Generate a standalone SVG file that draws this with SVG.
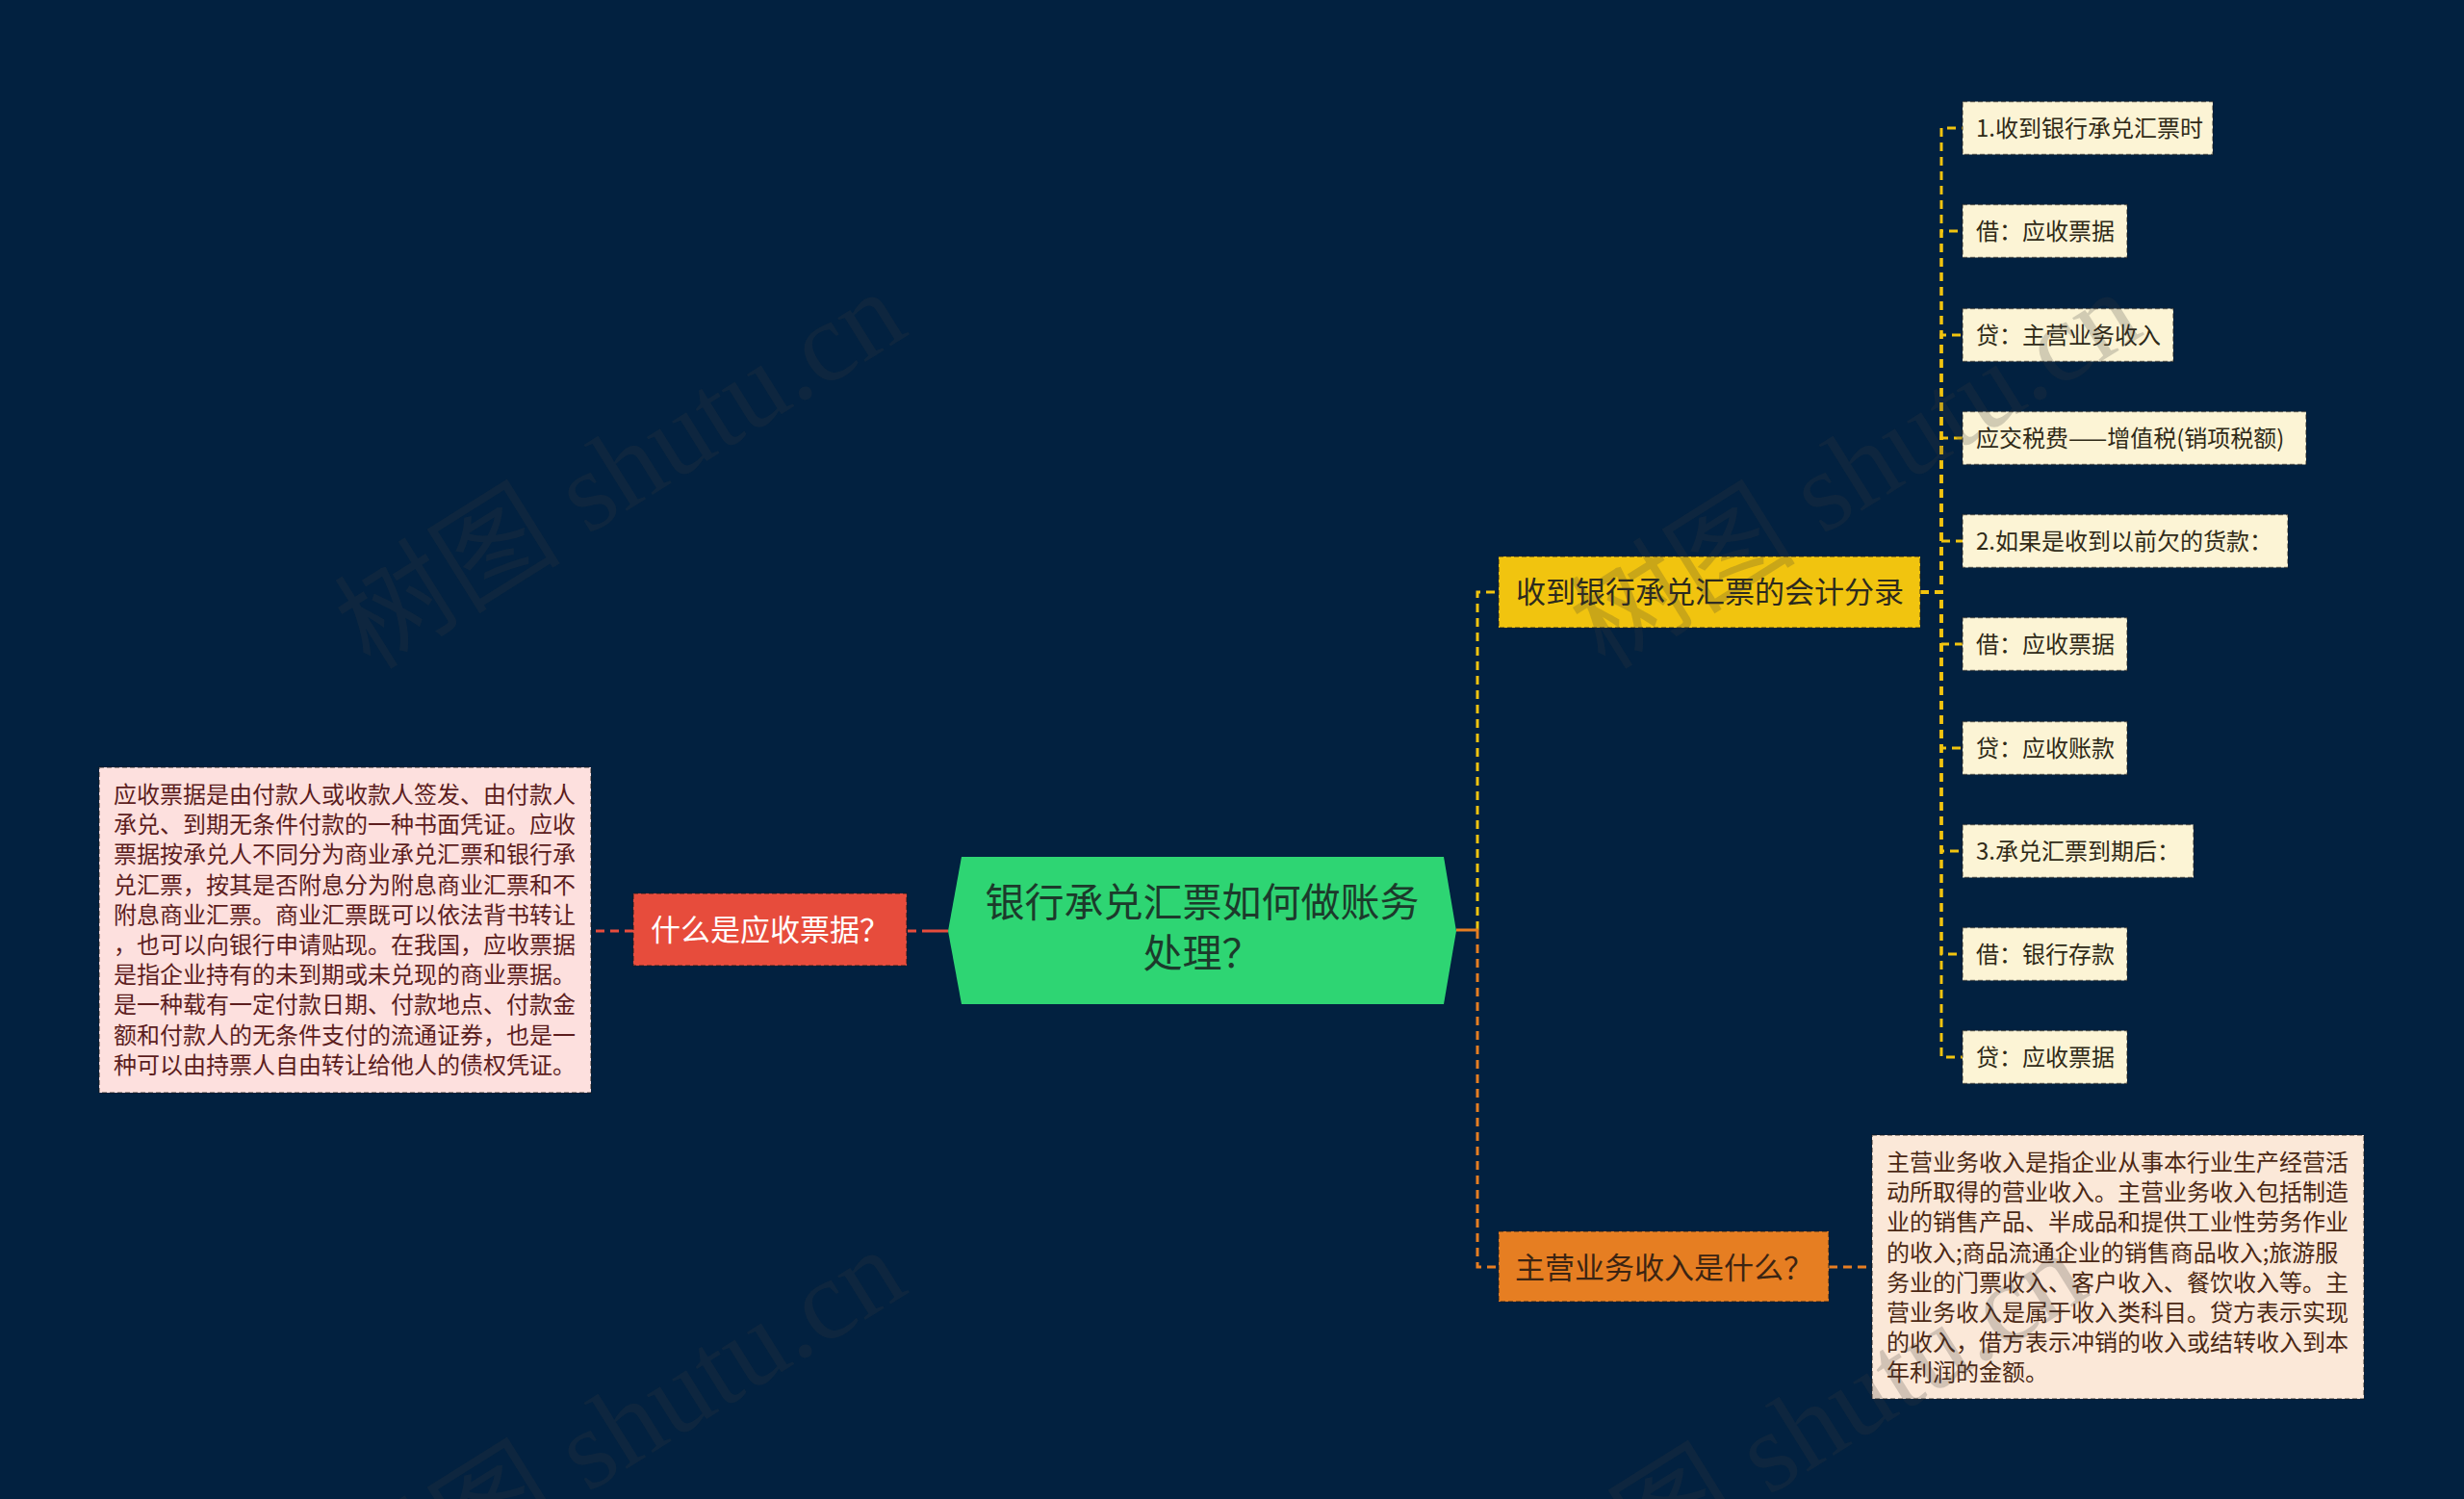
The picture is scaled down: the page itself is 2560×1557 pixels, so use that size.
<svg xmlns="http://www.w3.org/2000/svg" width="2560" height="1557" viewBox="0 0 2560 1557">
<style>
.t{font-family:"Noto Sans CJK SC","Noto Sans CJK TC",sans-serif}
.bd{stroke:#1a1a1a;stroke-opacity:.55;stroke-width:1.5;stroke-dasharray:5 3}
.leaf rect{fill:#fcf4d5}
.leaf text{font-size:24px;fill:#2f2a17}
.ln{fill:none;stroke-width:3;stroke-dasharray:9 6}
.ly{stroke:#f1c40f}
.lo{stroke:#e67e22}
.lr{stroke:#e74c3c}
.wm{font-family:"Liberation Serif","Noto Sans CJK SC",serif;font-size:118px;fill:#3c3c3c;fill-opacity:.22}
</style>
<rect width="2560" height="1557" fill="#022140"/>

<g id="connectors">
  <path class="ln ly" d="M1535 966 V615 H1557"/>
  <path class="ln lo" d="M1535 966 V1316 H1557"/>
  <path d="M1513 966 H1536" stroke="#e67e22" stroke-width="3" fill="none"/>
  <path d="M985 967 H958" stroke="#e74c3c" stroke-width="3" fill="none"/>
  <path class="ln lr" d="M952 967 H942"/>
  <path class="ln lr" d="M658 967 H614"/>
  <path class="ln lo" d="M1900 1316 H1945"/>
  <path class="ln ly" d="M1995 615 H2017 V133 H2039"/>
  <path class="ln ly" d="M1995 615 H2017 V240 H2039"/>
  <path class="ln ly" d="M1995 615 H2017 V348 H2039"/>
  <path class="ln ly" d="M1995 615 H2017 V455 H2039"/>
  <path class="ln ly" d="M1995 615 H2017 V562 H2039"/>
  <path class="ln ly" d="M1995 615 H2017 V669 H2039"/>
  <path class="ln ly" d="M1995 615 H2017 V777 H2039"/>
  <path class="ln ly" d="M1995 615 H2017 V884 H2039"/>
  <path class="ln ly" d="M1995 615 H2017 V991 H2039"/>
  <path class="ln ly" d="M1995 615 H2017 V1098 H2039"/>
</g>

<g id="root">
  <polygon points="985,967 999,890 1500,890 1513,967 1500,1043 999,1043" fill="#2ed573"/>
  <text class="t" x="1249" y="952" font-size="41" fill="#1c3a2b" text-anchor="middle">银行承兑汇票如何做账务</text>
  <text class="t" x="1249" y="1005" font-size="41" fill="#1c3a2b" text-anchor="middle">处理？</text>
</g>

<g id="n-what-receivable">
  <rect class="bd" x="658" y="928" width="284" height="75" fill="#e74c3c"/>
  <text class="t" x="676" y="977" font-size="31" fill="#ffffff">什么是应收票据？</text>
</g>

<g id="n-receivable-desc">
  <rect class="bd" x="103" y="797" width="511" height="338" fill="#fde0de"/>
  <text class="t" font-size="24" fill="#5c1d1d">
    <tspan x="118" y="834">应收票据是由付款人或收款人签发、由付款人</tspan>
    <tspan x="118" y="865.2">承兑、到期无条件付款的一种书面凭证。应收</tspan>
    <tspan x="118" y="896.4">票据按承兑人不同分为商业承兑汇票和银行承</tspan>
    <tspan x="118" y="927.6">兑汇票，按其是否附息分为附息商业汇票和不</tspan>
    <tspan x="118" y="958.8">附息商业汇票。商业汇票既可以依法背书转让</tspan>
    <tspan x="118" y="990">，也可以向银行申请贴现。在我国，应收票据</tspan>
    <tspan x="118" y="1021.2">是指企业持有的未到期或未兑现的商业票据。</tspan>
    <tspan x="118" y="1052.4">是一种载有一定付款日期、付款地点、付款金</tspan>
    <tspan x="118" y="1083.6">额和付款人的无条件支付的流通证券，也是一</tspan>
    <tspan x="118" y="1114.8">种可以由持票人自由转让给他人的债权凭证。</tspan>
  </text>
</g>

<g id="n-entries">
  <rect class="bd" x="1557" y="578" width="438" height="74" fill="#f1c40f"/>
  <text class="t" x="1575" y="626" font-size="31" fill="#2c2a1e">收到银行承兑汇票的会计分录</text>
</g>

<g id="n-main-income">
  <rect class="bd" x="1557" y="1279" width="343" height="73" fill="#e67e22"/>
  <text class="t" x="1574" y="1328" font-size="31" fill="#3b2412">主营业务收入是什么？</text>
</g>

<g id="n-main-income-desc">
  <rect class="bd" x="1945" y="1179" width="511" height="274" fill="#fbe8d8"/>
  <text class="t" font-size="24" fill="#4b2814">
    <tspan x="1960" y="1216">主营业务收入是指企业从事本行业生产经营活</tspan>
    <tspan x="1960" y="1247.2">动所取得的营业收入。主营业务收入包括制造</tspan>
    <tspan x="1960" y="1278.4">业的销售产品、半成品和提供工业性劳务作业</tspan>
    <tspan x="1960" y="1309.6">的收入;商品流通企业的销售商品收入;旅游服</tspan>
    <tspan x="1960" y="1340.8">务业的门票收入、客户收入、餐饮收入等。主</tspan>
    <tspan x="1960" y="1372">营业务收入是属于收入类科目。贷方表示实现</tspan>
    <tspan x="1960" y="1403.2">的收入，借方表示冲销的收入或结转收入到本</tspan>
    <tspan x="1960" y="1434.4">年利润的金额。</tspan>
  </text>
</g>

<g id="leaf-1" class="leaf"><rect class="bd" x="2039" y="105.5" width="260" height="55"/><text class="t" x="2053" y="142">1.收到银行承兑汇票时</text></g>
<g id="leaf-2" class="leaf"><rect class="bd" x="2039" y="212.5" width="171" height="55"/><text class="t" x="2053" y="249">借：应收票据</text></g>
<g id="leaf-3" class="leaf"><rect class="bd" x="2039" y="320.5" width="219" height="55"/><text class="t" x="2053" y="357">贷：主营业务收入</text></g>
<g id="leaf-4" class="leaf"><rect class="bd" x="2039" y="427.5" width="357" height="55"/><text class="t" x="2053" y="464">应交税费——增值税(销项税额)</text></g>
<g id="leaf-5" class="leaf"><rect class="bd" x="2039" y="534.5" width="338" height="55"/><text class="t" x="2053" y="571">2.如果是收到以前欠的货款：</text></g>
<g id="leaf-6" class="leaf"><rect class="bd" x="2039" y="641.5" width="171" height="55"/><text class="t" x="2053" y="678">借：应收票据</text></g>
<g id="leaf-7" class="leaf"><rect class="bd" x="2039" y="749.5" width="171" height="55"/><text class="t" x="2053" y="786">贷：应收账款</text></g>
<g id="leaf-8" class="leaf"><rect class="bd" x="2039" y="856.5" width="240" height="55"/><text class="t" x="2053" y="893">3.承兑汇票到期后：</text></g>
<g id="leaf-9" class="leaf"><rect class="bd" x="2039" y="963.5" width="171" height="55"/><text class="t" x="2053" y="1000">借：银行存款</text></g>
<g id="leaf-10" class="leaf"><rect class="bd" x="2039" y="1070.5" width="171" height="55"/><text class="t" x="2053" y="1107">贷：应收票据</text></g>

<g id="watermarks">
  <text class="wm" transform="translate(385,697) rotate(-32)">树图 shutu.cn</text>
  <text class="wm" transform="translate(1668,697) rotate(-32)">树图 shutu.cn</text>
  <text class="wm" transform="translate(385,1692) rotate(-32)">树图 shutu.cn</text>
  <text class="wm" transform="translate(1612,1695) rotate(-32)">树图 shutu.cn</text>
</g>
</svg>
